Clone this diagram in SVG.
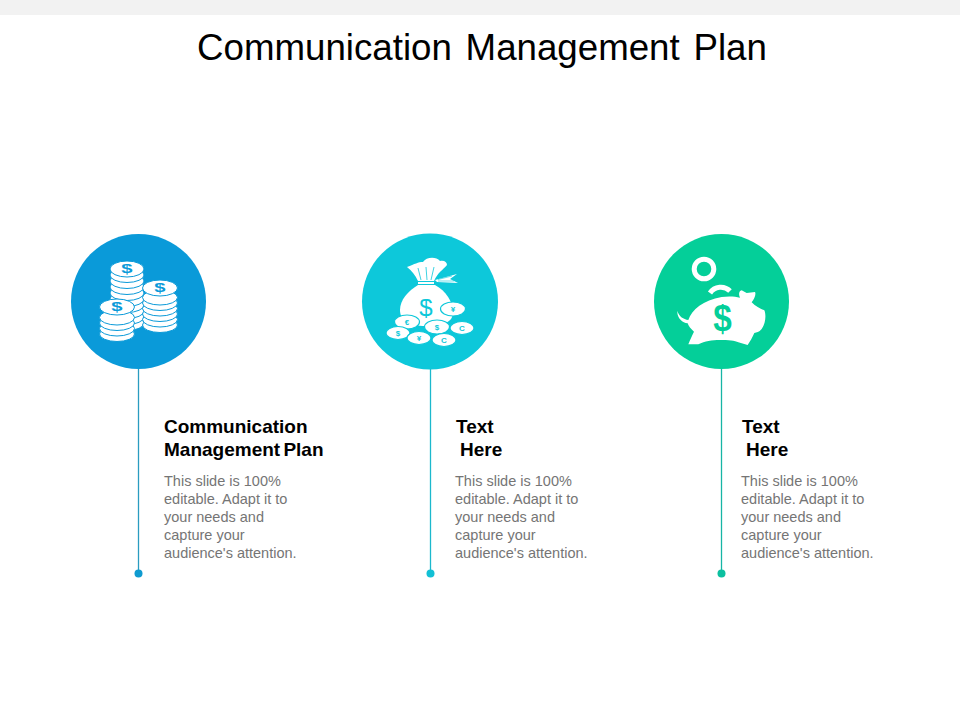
<svg xmlns="http://www.w3.org/2000/svg" width="960" height="720" viewBox="0 0 960 720">
<style>
text{font-family:"Liberation Sans",Arial,sans-serif}
.title{font-size:36.7px;fill:#000}
.head{font-size:19px;font-weight:bold;fill:#000}
.body{font-size:14.5px;fill:#757575}
.w{fill:#fff}
.c1 ellipse{fill:#fff;stroke:#0a9ad9;stroke-width:1}
.m{font-size:8px;font-weight:bold;fill:#0dc8da;text-anchor:middle}
.coin{fill:#fff;stroke:#0dc8da;stroke-width:1.2}
</style>
<rect x="0" y="0" width="960" height="15" fill="#f2f2f2"/>
<text class="title" x="197" y="60" word-spacing="3.5">Communication Management Plan</text>
<g id="connectors" fill="none" stroke-width="1.3">
<path d="M138.5 369V573" stroke="#2a9cc0"/>
<path d="M430.5 369V573" stroke="#1bb8cd"/>
<path d="M721.5 369V573" stroke="#17b5a5"/>
<circle cx="138.5" cy="573.5" r="4" fill="#0f9bd0" stroke="none"/>
<circle cx="430.5" cy="573.5" r="4" fill="#12c0d5" stroke="none"/>
<circle cx="721.5" cy="573.5" r="4" fill="#0cc0a0" stroke="none"/>
</g>
<g id="node1">
<circle cx="138.5" cy="301.5" r="67.5" fill="#0a9ad9"/>
<g class="c1">
<ellipse cx="127" cy="323" rx="17" ry="7.5"/><ellipse cx="127" cy="317" rx="17" ry="7.5"/><ellipse cx="127" cy="311" rx="17" ry="7.5"/><ellipse cx="127" cy="305" rx="17" ry="7.5"/><ellipse cx="127" cy="299" rx="17" ry="7.5"/><ellipse cx="127" cy="293" rx="17" ry="7.5"/><ellipse cx="127" cy="287" rx="17" ry="7.5"/><ellipse cx="127" cy="281" rx="17" ry="7.5"/><ellipse cx="127" cy="275" rx="17" ry="7.5"/><ellipse cx="127" cy="269" rx="17" ry="8"/>
<ellipse cx="160" cy="325" rx="17.5" ry="7.5"/><ellipse cx="160" cy="319.5" rx="17.5" ry="7.5"/><ellipse cx="160" cy="314" rx="17.5" ry="7.5"/><ellipse cx="160" cy="308.5" rx="17.5" ry="7.5"/><ellipse cx="160" cy="303" rx="17.5" ry="7.5"/><ellipse cx="160" cy="297.5" rx="17.5" ry="7.5"/><ellipse cx="160" cy="288" rx="17.5" ry="8"/>
<ellipse cx="117" cy="334" rx="17.5" ry="7.5"/><ellipse cx="117" cy="328.5" rx="17.5" ry="7.5"/><ellipse cx="117" cy="323" rx="17.5" ry="7.5"/><ellipse cx="117" cy="317.5" rx="17.5" ry="7.5"/><ellipse cx="117" cy="307" rx="17.5" ry="8"/>
</g>
<text transform="translate(127 273) scale(1.35 .8)" font-size="15" font-weight="bold" fill="#0a9ad9" text-anchor="middle">$</text>
<text transform="translate(160 292) scale(1.35 .8)" font-size="15" font-weight="bold" fill="#0a9ad9" text-anchor="middle">$</text>
<text transform="translate(117 311) scale(1.35 .8)" font-size="15" font-weight="bold" fill="#0a9ad9" text-anchor="middle">$</text>
</g>
<g id="node2">
<circle cx="430" cy="301.5" r="68" fill="#0dc8da"/>
<path class="w" d="M407 267C415 264 418 262 423 262C426 257 436 256 440 261C444 260 447 262 447 265C443 270 438 272 434 281L418 281C415 275 412 271 407 267Z"/>
<path d="M418 268L421 280M426 267L427 280M434 267L431 280" stroke="#0dc8da" fill="none" stroke-width="0.8"/>
<path class="w" d="M418 282H434V284H418Z"/>
<path d="M435 280L457 274L450 279L458 283L437 282Z" class="w"/>
<path d="M438 279.5L452 276M438 281L454 281" stroke="#0dc8da" fill="none" stroke-width="0.6"/>
<path class="w" d="M418 285H435C446 291 453 302 453 312C453 322 444 326 426 326C408 326 400 320 400 310C400 300 408 291 418 285Z"/>
<text x="426" y="316" font-size="24" fill="#0dc8da" text-anchor="middle">$</text>
<g>
<ellipse class="coin" cx="453" cy="309" rx="12.5" ry="7"/><text class="m" x="453" y="312">¥</text>
<ellipse class="coin" cx="407" cy="322" rx="12.5" ry="7"/><text class="m" x="407" y="325">€</text>
<ellipse class="coin" cx="437" cy="327" rx="12.5" ry="7"/><text class="m" x="437" y="330">$</text>
<ellipse class="coin" cx="462" cy="328" rx="12" ry="6.5"/><text class="m" x="462" y="331">C</text>
<ellipse class="coin" cx="398" cy="333" rx="12" ry="6.5"/><text class="m" x="398" y="336">$</text>
<ellipse class="coin" cx="419" cy="338" rx="12" ry="6.5"/><text class="m" x="419" y="341">¥</text>
<ellipse class="coin" cx="444" cy="340" rx="12" ry="6.5"/><text class="m" x="444" y="343">C</text>
</g>
</g>
<g id="node3">
<circle cx="721.5" cy="301.5" r="67.5" fill="#04cf99"/>
<circle cx="704" cy="269" r="9.8" fill="none" stroke="#fff" stroke-width="5"/>
<path d="M710 293A13 13 0 0 1 730 291" fill="none" stroke="#fff" stroke-width="5"/>
<path class="w" transform="translate(645 225) scale(.3333)" d="M97 258C103 275 115 283 130 285C140 255 175 225 230 216C250 213 270 214 285 218C280 208 282 198 290 196L305 204L330 201C334 208 328 222 320 232C332 245 345 250 358 256C364 270 362 295 350 312C342 322 335 322 328 324C322 338 315 350 308 360L280 352C270 347 250 345 225 345C200 345 180 348 160 358L130 358C135 345 142 330 147 320C138 312 130 303 128 295C112 292 96 280 97 258Z"/>
<text transform="translate(722.5 331) scale(.9 1)" font-size="37" font-weight="bold" fill="#04cf99" text-anchor="middle">$</text>
</g>
<g id="text1">
<text class="head" x="164" y="433">Communication</text>
<text class="head" x="164" y="456" word-spacing="-2">Management Plan</text>
<text class="body"><tspan x="164" y="486">This slide is 100%</tspan><tspan x="164" y="504">editable. Adapt it to</tspan><tspan x="164" y="522">your needs and</tspan><tspan x="164" y="540">capture your</tspan><tspan x="164" y="558">audience's attention.</tspan></text>
</g>
<g id="text2">
<text class="head" x="456" y="433">Text</text>
<text class="head" x="460" y="456">Here</text>
<text class="body"><tspan x="455" y="486">This slide is 100%</tspan><tspan x="455" y="504">editable. Adapt it to</tspan><tspan x="455" y="522">your needs and</tspan><tspan x="455" y="540">capture your</tspan><tspan x="455" y="558">audience's attention.</tspan></text>
</g>
<g id="text3">
<text class="head" x="742" y="433">Text</text>
<text class="head" x="746" y="456">Here</text>
<text class="body"><tspan x="741" y="486">This slide is 100%</tspan><tspan x="741" y="504">editable. Adapt it to</tspan><tspan x="741" y="522">your needs and</tspan><tspan x="741" y="540">capture your</tspan><tspan x="741" y="558">audience's attention.</tspan></text>
</g>
</svg>
